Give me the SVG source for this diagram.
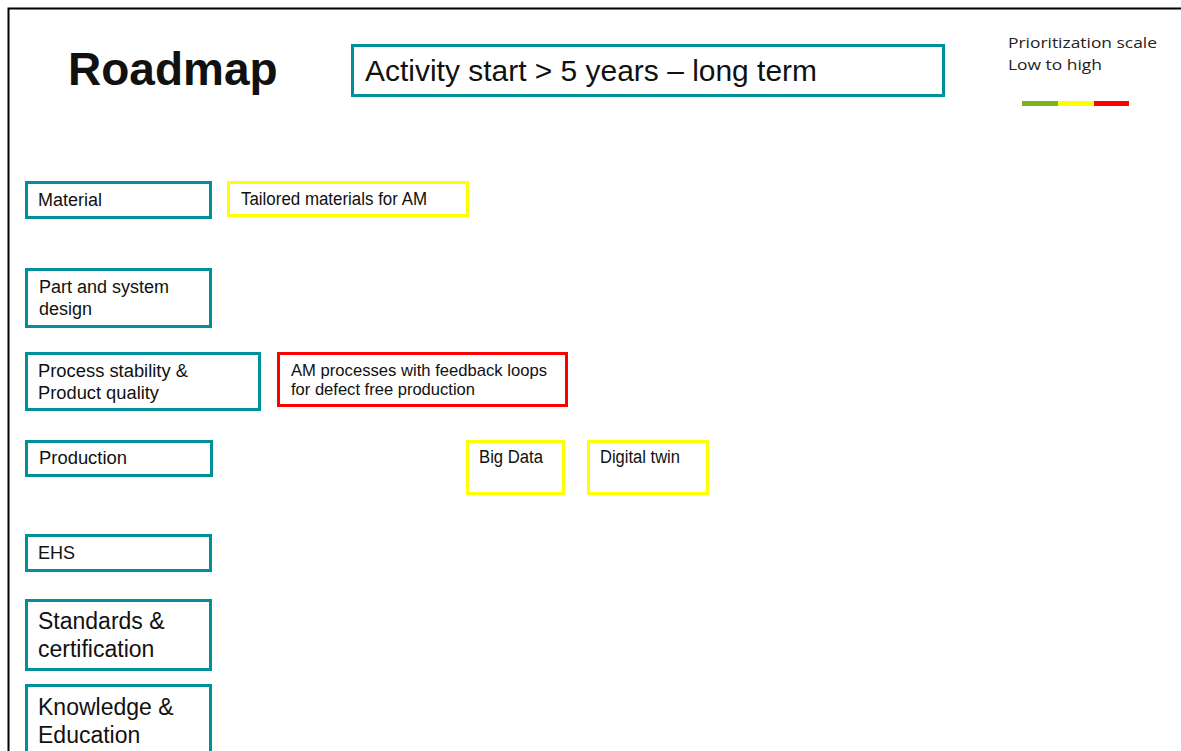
<svg xmlns="http://www.w3.org/2000/svg" width="1181" height="751" viewBox="0 0 1181 751">
<style>
.t{fill:none;stroke:#00909A;stroke-width:3}
.y{fill:none;stroke:#FFFF00;stroke-width:3}
.r{fill:none;stroke:#FF0000;stroke-width:3}
text{font-family:"Liberation Sans",Arial,sans-serif;fill:#111}
.s{font-size:18px}
.n{font-size:17px}
.m{font-size:23px}
.lg{font-family:"Open Sans","Noto Sans",sans-serif;font-size:15px;fill:#222}
</style>
<rect width="1181" height="751" fill="#fff"/>
<path d="M8.5 751V8.5H1181" fill="none" stroke="#000" stroke-width="2"/>
<g id="title"><text x="68" y="85" font-size="46" font-weight="bold">Roadmap</text></g>
<g id="activity"><rect class="t" x="352.5" y="45.5" width="591" height="50"/><text x="365" y="81" font-size="30" textLength="452" lengthAdjust="spacingAndGlyphs">Activity start &gt; 5 years – long term</text></g>
<g id="legend">
<text class="lg" x="1008" y="48" textLength="149" lengthAdjust="spacingAndGlyphs">Prioritization scale</text>
<text class="lg" x="1008" y="70" textLength="94" lengthAdjust="spacingAndGlyphs">Low to high</text>
<rect x="1022" y="101" width="36" height="5" fill="#7AB51D"/>
<rect x="1058" y="101" width="36" height="5" fill="#FFFF00"/>
<rect x="1094" y="101" width="35" height="5" fill="#FF0000"/>
</g>
<g id="material"><rect class="t" x="26.5" y="182.5" width="184" height="35"/><text class="s" x="38" y="206">Material</text></g>
<g id="tailored"><rect class="y" x="228.5" y="182.5" width="239" height="33"/><text class="s" x="241" y="205" textLength="186" lengthAdjust="spacingAndGlyphs">Tailored materials for AM</text></g>
<g id="part"><rect class="t" x="26.5" y="269.5" width="184" height="57"/><text class="s" x="39" y="293">Part and system</text><text class="s" x="39" y="315">design</text></g>
<g id="process"><rect class="t" x="26.5" y="353.5" width="233" height="56"/><text class="s" x="38" y="377" textLength="150" lengthAdjust="spacingAndGlyphs">Process stability &amp;</text><text class="s" x="38" y="399" textLength="121" lengthAdjust="spacingAndGlyphs">Product quality</text></g>
<g id="amprocesses"><rect class="r" x="278.5" y="353.5" width="288" height="52"/><text class="n" x="291" y="376" textLength="256" lengthAdjust="spacingAndGlyphs">AM processes with feedback loops</text><text class="n" x="291" y="395" textLength="184" lengthAdjust="spacingAndGlyphs">for defect free production</text></g>
<g id="production"><rect class="t" x="26.5" y="441.5" width="185" height="34"/><text class="s" x="39" y="464" textLength="88" lengthAdjust="spacingAndGlyphs">Production</text></g>
<g id="bigdata"><rect class="y" x="467.5" y="441.5" width="96" height="52"/><text class="s" x="479" y="463" textLength="64" lengthAdjust="spacingAndGlyphs">Big Data</text></g>
<g id="digitaltwin"><rect class="y" x="588.5" y="441.5" width="119" height="52"/><text class="s" x="600" y="463" textLength="80" lengthAdjust="spacingAndGlyphs">Digital twin</text></g>
<g id="ehs"><rect class="t" x="26.5" y="535.5" width="184" height="35"/><text class="s" x="38" y="559">EHS</text></g>
<g id="standards"><rect class="t" x="26.5" y="600.5" width="184" height="69"/><text class="m" x="38" y="629">Standards &amp;</text><text class="m" x="38" y="657">certification</text></g>
<g id="knowledge"><rect class="t" x="26.5" y="685.5" width="184" height="75"/><text class="m" x="38" y="715">Knowledge &amp;</text><text class="m" x="38" y="743">Education</text></g>
<g id="connectors"/>
</svg>
